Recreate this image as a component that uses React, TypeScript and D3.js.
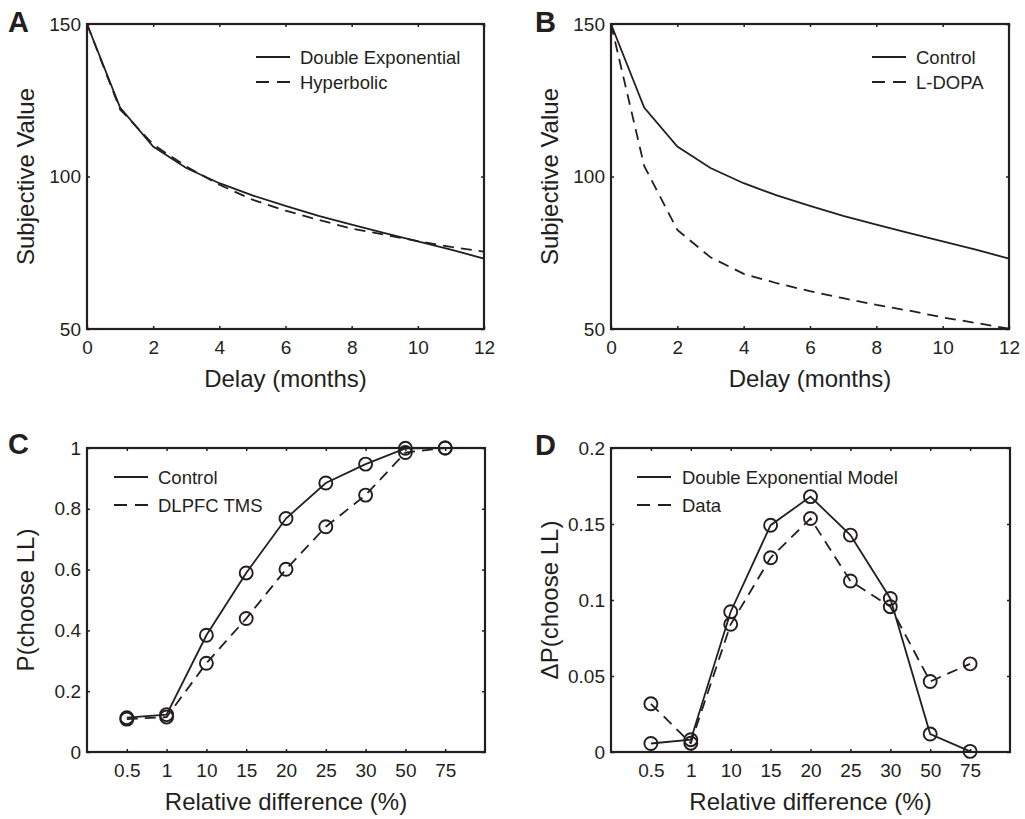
import { useEffect, useRef } from "react";
import * as d3 from "d3";

// panels A/B: subjective value by delay
const months = [0, 1, 2, 3, 4, 5, 6, 7, 8, 9, 10, 11, 12];
const doubleExponential = [150, 122.6, 109.8, 102.8, 97.8, 93.8, 90.4, 87.1, 84.2, 81.4, 78.7, 76.0, 73.1];
const hyperbolic = [150, 122.0, 110.5, 103.3, 97.3, 92.4, 88.8, 85.8, 82.9, 80.9, 78.8, 76.9, 75.4];
const control = [150, 122.6, 109.8, 102.8, 97.8, 93.8, 90.4, 87.1, 84.2, 81.4, 78.7, 76.0, 73.1];
const lDopa = [150, 103.5, 82.5, 73.5, 68.1, 65.0, 62.4, 60.1, 57.9, 56.0, 53.8, 52.0, 50.1];
const monthTicks = [0, 2, 4, 6, 8, 10, 12];
const valueTicks = [50, 100, 150];

// panels C/D: by relative difference
const relDiff = ["0.5", "1", "10", "15", "20", "25", "30", "50", "75"];
const pControl = [0.113, 0.123, 0.384, 0.589, 0.768, 0.885, 0.947, 0.999, 1.0];
const pTms = [0.108, 0.115, 0.292, 0.439, 0.601, 0.741, 0.845, 0.985, 1.0];
const dpModel = [0.0056, 0.0081, 0.0923, 0.1492, 0.1680, 0.1427, 0.1010, 0.0118, 0.0004];
const dpData = [0.0317, 0.0058, 0.0840, 0.1278, 0.1536, 0.1125, 0.0956, 0.0464, 0.0580];
const pTicks = [0, 0.2, 0.4, 0.6, 0.8, 1];
const dpTicks = [0, 0.05, 0.1, 0.15, 0.2];

const INK = "#231f20";
const FONT = "'Liberation Sans', Arial, Helvetica, sans-serif";

type Series = { name: string; values: number[]; dashed: boolean };

type PanelProps = {
  letter: string;
  letterPos: [number, number];
  box: { x: number; y: number; w: number; h: number };
  categories?: string[];
  xValues?: number[];
  xDomain?: [number, number];
  xTicks?: number[];
  yDomain: [number, number];
  yTicks: number[];
  xLabel: string;
  yLabel: string;
  series: Series[];
  markers?: boolean;
  legend: { x: number; y: number; gap: number; textX: number };
};

const Panel = (p: PanelProps) => {
  const ref = useRef<SVGGElement>(null);

  useEffect(() => {
    const g = d3.select(ref.current);
    g.selectAll("*").remove();
    const { x: bx, y: by, w, h } = p.box;
    const root = g.append("g").attr("transform", `translate(${bx},${by})`);

    const pointX = p.categories
      ? d3.scalePoint<string>().domain(p.categories).range([0, w]).padding(1)
      : null;
    const linX = d3.scaleLinear().domain(p.xDomain || [0, 1]).range([0, w]);
    const xAt = (i: number) =>
      pointX ? (pointX(p.categories![i]) as number) : linX(p.xValues![i]);
    const y = d3.scaleLinear().domain(p.yDomain).range([h, 0]);

    const styleAxis = (sel: any) => {
      sel.select(".domain").remove();
      sel.selectAll(".tick line").attr("stroke", INK).attr("stroke-width", 1.5);
      sel
        .selectAll(".tick text")
        .attr("fill", INK)
        .style("font-family", FONT)
        .style("font-size", "19px");
    };

    // bottom + top axes
    const xAxisBottom: any = pointX
      ? d3.axisBottom(pointX)
      : d3.axisBottom(linX).tickValues(p.xTicks!).tickFormat((d: any) => String(d));
    xAxisBottom.tickSizeInner(-3).tickSizeOuter(0).tickPadding(12);
    root.append("g").attr("transform", `translate(0,${h})`).call(xAxisBottom).call(styleAxis);

    const xAxisTop: any = pointX
      ? d3.axisTop(pointX)
      : d3.axisTop(linX).tickValues(p.xTicks!);
    xAxisTop.tickSizeInner(-3).tickSizeOuter(0).tickFormat(() => "");
    root.append("g").call(xAxisTop).call(styleAxis);

    // left + right axes
    const yAxisLeft = d3
      .axisLeft(y)
      .tickValues(p.yTicks)
      .tickSizeInner(-3)
      .tickSizeOuter(0)
      .tickPadding(6)
      .tickFormat((d: any) => String(+(+d).toFixed(3)));
    root.append("g").call(yAxisLeft).call(styleAxis);

    const yAxisRight = d3
      .axisRight(y)
      .tickValues(p.yTicks)
      .tickSizeInner(-3)
      .tickSizeOuter(0)
      .tickFormat(() => "");
    root.append("g").attr("transform", `translate(${w},0)`).call(yAxisRight).call(styleAxis);

    // frame
    root
      .append("rect")
      .attr("width", w)
      .attr("height", h)
      .attr("fill", "none")
      .attr("stroke", INK)
      .attr("stroke-width", 2.2);

    // series
    p.series.forEach((s) => {
      const line = d3
        .line<number>()
        .x((_, i) => xAt(i))
        .y((d) => y(d));
      root
        .append("path")
        .datum(s.values)
        .attr("d", line)
        .attr("fill", "none")
        .attr("stroke", INK)
        .attr("stroke-width", 1.8)
        .attr("stroke-dasharray", s.dashed ? "11,7" : null);
      if (p.markers) {
        root
          .append("g")
          .selectAll("circle")
          .data(s.values)
          .join("circle")
          .attr("cx", (_, i) => xAt(i))
          .attr("cy", (d) => y(d))
          .attr("r", 6.5)
          .attr("fill", "none")
          .attr("stroke", INK)
          .attr("stroke-width", 1.9);
      }
    });

    // axis labels
    root
      .append("text")
      .attr("x", w / 2)
      .attr("y", h + 58)
      .attr("text-anchor", "middle")
      .attr("fill", INK)
      .style("font-family", FONT)
      .style("font-size", "24px")
      .text(p.xLabel);
    root
      .append("text")
      .attr("transform", `translate(-53,${h / 2}) rotate(-90)`)
      .attr("text-anchor", "middle")
      .attr("fill", INK)
      .style("font-family", FONT)
      .style("font-size", "24px")
      .text(p.yLabel);

    // legend
    const lg = g.append("g");
    p.series.forEach((s, i) => {
      const ly = p.legend.y + i * p.legend.gap;
      lg.append("line")
        .attr("x1", p.legend.x)
        .attr("x2", p.legend.x + 34)
        .attr("y1", ly)
        .attr("y2", ly)
        .attr("stroke", INK)
        .attr("stroke-width", 1.8)
        .attr("stroke-dasharray", s.dashed ? "13,8" : null);
      lg.append("text")
        .attr("x", p.legend.textX)
        .attr("y", ly + 7)
        .attr("fill", INK)
        .style("font-family", FONT)
        .style("font-size", "18.5px")
        .text(s.name);
    });

    // panel letter
    g.append("text")
      .attr("x", p.letterPos[0])
      .attr("y", p.letterPos[1])
      .attr("fill", INK)
      .style("font-family", FONT)
      .style("font-size", "29px")
      .style("font-weight", "bold")
      .text(p.letter);
  }, [p]);

  return <g ref={ref} />;
};

export default function App() {
  return (
    <svg
      width={1025}
      height={819}
      style={{ position: "absolute", left: 0, top: 0, background: "#fff" }}
    >
      <Panel
        letter="A"
        letterPos={[8, 32]}
        box={{ x: 87, y: 24, w: 397, h: 305 }}
        xValues={months}
        xDomain={[0, 12]}
        xTicks={monthTicks}
        yDomain={[50, 150]}
        yTicks={valueTicks}
        xLabel="Delay (months)"
        yLabel="Subjective Value"
        series={[
          { name: "Double Exponential", values: doubleExponential, dashed: false },
          { name: "Hyperbolic", values: hyperbolic, dashed: true },
        ]}
        legend={{ x: 256, y: 57, gap: 25, textX: 300 }}
      />
      <Panel
        letter="B"
        letterPos={[535, 32]}
        box={{ x: 611, y: 24, w: 398, h: 305 }}
        xValues={months}
        xDomain={[0, 12]}
        xTicks={monthTicks}
        yDomain={[50, 150]}
        yTicks={valueTicks}
        xLabel="Delay (months)"
        yLabel="Subjective Value"
        series={[
          { name: "Control", values: control, dashed: false },
          { name: "L-DOPA", values: lDopa, dashed: true },
        ]}
        legend={{ x: 872, y: 57, gap: 25, textX: 916 }}
      />
      <Panel
        letter="C"
        letterPos={[8, 454]}
        box={{ x: 87, y: 448, w: 398, h: 304 }}
        categories={relDiff}
        yDomain={[0, 1]}
        yTicks={pTicks}
        xLabel="Relative difference (%)"
        yLabel="P(choose LL)"
        markers
        series={[
          { name: "Control", values: pControl, dashed: false },
          { name: "DLPFC TMS", values: pTms, dashed: true },
        ]}
        legend={{ x: 114, y: 477, gap: 28, textX: 158 }}
      />
      <Panel
        letter="D"
        letterPos={[535, 455]}
        box={{ x: 611, y: 448, w: 399, h: 304 }}
        categories={relDiff}
        yDomain={[0, 0.2]}
        yTicks={dpTicks}
        xLabel="Relative difference (%)"
        yLabel="ΔP(choose LL)"
        markers
        series={[
          { name: "Double Exponential Model", values: dpModel, dashed: false },
          { name: "Data", values: dpData, dashed: true },
        ]}
        legend={{ x: 637, y: 477, gap: 28, textX: 682 }}
      />
    </svg>
  );
}
